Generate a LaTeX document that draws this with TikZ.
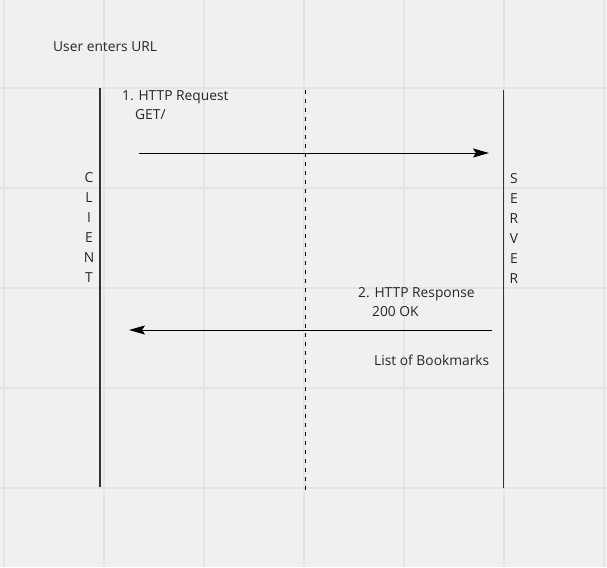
\documentclass[tikz,border=0pt]{standalone}
\usepackage{fontspec}
\setmainfont{Open Sans}
\usetikzlibrary{arrows.meta}
\definecolor{bgc}{HTML}{F0F0F0}
\definecolor{gridc}{HTML}{E4E4E4}
\definecolor{lifec}{HTML}{333333}
\begin{document}
\begin{tikzpicture}[x=1pt,y=-1pt,
  lbl/.style={anchor=base west,inner sep=0pt,font=\fontsize{13.8}{16}\selectfont,text=black!85},
  letter/.style={anchor=base,inner sep=0pt,font=\fontsize{13.8}{16}\selectfont,text=black!85},
  lifeline/.style={draw=lifec,line width=1.3pt},
  msg/.style={draw=black,line width=1pt,-{Stealth[length=16pt,width=9pt,inset=3pt]}}]
\fill[bgc] (0,0) rectangle (607,567);
\useasboundingbox (0,0) rectangle (607,567);
\foreach \x in {4,104,204,304,404,504,604} \draw[gridc,line width=2pt] (\x,0) -- (\x,567);
\foreach \y in {88,188,288,388,488} \draw[gridc,line width=2pt] (0,\y) -- (607,\y);
% lifelines
\coordinate (c1) at (100,88); \coordinate (c2) at (100,487);
\coordinate (s1) at (503.5,90); \coordinate (s2) at (503.5,488);
\coordinate (d1) at (305,90); \coordinate (d2) at (305,490);
\draw[lifeline] (c1) -- (c2);
\draw[lifeline] (s1) -- (s2);
\draw[black,line width=1pt,dash pattern=on 4pt off 5pt] (d1) -- (d2);
% messages
\coordinate (a1) at (139,153); \coordinate (a2) at (489,153);
\coordinate (b1) at (492,330); \coordinate (b2) at (129,330);
\draw[msg] (a1) -- (a2);
\draw[msg] (b1) -- (b2);
% texts
\node[lbl] (t0) at (53,52) {User enters URL};
\node[lbl] (t1) at (122,101) {1. HTTP Request};
\node[lbl] (t2) at (135,120) {GET/};
\node[lbl] (t3) at (358,297) {2. HTTP Response};
\node[lbl] (t4) at (372,316) {200 OK};
\node[lbl] (t5) at (374,365) {List of Bookmarks};
\foreach \l [count=\i from 0] in {C,L,I,E,N,T}
  \node[letter] (cl\i) at (89,182+20*\i) {\l};
\foreach \l [count=\i from 0] in {S,E,R,V,E,R}
  \node[letter] (sl\i) at (514,183+20*\i) {\l};
\end{tikzpicture}
\end{document}
